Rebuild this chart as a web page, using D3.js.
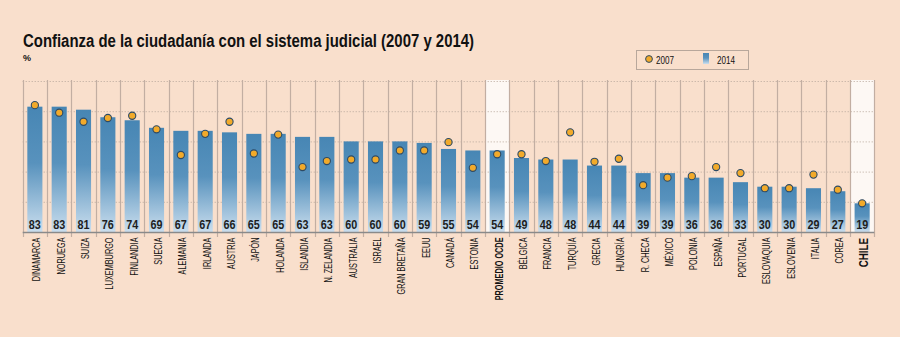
<!DOCTYPE html>
<html><head><meta charset="utf-8">
<script src="https://cdn.jsdelivr.net/npm/d3@7"></script>
<style>
html,body{margin:0;padding:0;background:#f9dfcc;}
svg{display:block;}
</style></head>
<body>
<svg id="chart" width="900" height="337"></svg>
<script>
const categories = ["DINAMARCA","NORUEGA","SUIZA","LUXEMBURGO","FINLANDIA","SUECIA","ALEMANIA","IRLANDA","AUSTRIA","JAPÓN","HOLANDA","ISLANDIA","N. ZELANDIA","AUSTRALIA","ISRAEL","GRAN BRETAÑA","EEUU","CANADÁ","ESTONIA","PROMEDIO OCDE","BÉLGICA","FRANCIA","TURQUÍA","GRECIA","HUNGRÍA","R. CHECA","MÉXICO","POLONIA","ESPAÑA","PORTUGAL","ESLOVAQUIA","ESLOVENIA","ITALIA","COREA","CHILE"];
const values2014 = [83,83,81,76,74,69,67,67,66,65,65,63,63,60,60,60,59,55,54,54,49,48,48,44,44,39,39,36,36,33,30,30,29,27,19];
const values2007 = [84,79,73,75.5,77,68,51,65,73,52,64.5,43,47,48,48,54,54,59.5,42.5,51.5,51.5,47,66,46.5,48.5,31,36,37,43,39,29,29,38,28,19];
const yTicks = [20,40,60,80,100];
const highlighted = ["PROMEDIO OCDE","CHILE"];

const font = "'Liberation Sans',Arial,sans-serif";
const svg = d3.select("#chart");
svg.append("rect").attr("width",900).attr("height",337).attr("fill","#f9dfcc");

const x = d3.scaleBand().domain(categories).range([22.7,874.3]).paddingInner(0.38).paddingOuter(0.19);
const y = d3.scaleLinear().domain([0,100]).range([232,81]);

const defs = svg.append("defs");
const grad = defs.append("linearGradient").attr("id","barGrad").attr("x1",0).attr("y1",0).attr("x2",0).attr("y2",1);
grad.append("stop").attr("offset","0%").attr("stop-color","#4786b4");
grad.append("stop").attr("offset","45%").attr("stop-color","#5892bd");
grad.append("stop").attr("offset","100%").attr("stop-color","#cadeee");

const step = x.step();
const bandStart = d => x(d) - x.paddingInner()*step/2;

// highlighted columns
svg.append("g").selectAll("rect").data(highlighted).join("rect")
  .attr("x", d => bandStart(d)).attr("y", y(100)-1)
  .attr("width", step).attr("height", y(0)-y(100)+1)
  .attr("fill","#fdf8f4");

// horizontal dotted gridlines
svg.append("g").selectAll("line").data(yTicks).join("line")
  .attr("x1",22.7).attr("x2",874.3).attr("y1",d=>y(d)+0.5).attr("y2",d=>y(d)+0.5)
  .attr("stroke","#b9a89c").attr("stroke-width",1).attr("stroke-dasharray","1,2");

// vertical separators
const seps = categories.map(c => bandStart(c)).concat([bandStart(categories[categories.length-1])+step]);
svg.append("g").selectAll("line").data(seps).join("line")
  .attr("x1",d=>Math.round(d)+0.5).attr("x2",d=>Math.round(d)+0.5)
  .attr("y1",y(100)-1).attr("y2",y(0)+5)
  .attr("stroke","#c2aea2").attr("stroke-width",1.2);

// bars
svg.append("g").selectAll("rect").data(categories).join("rect")
  .attr("x", d => x(d)).attr("width", x.bandwidth())
  .attr("y", (d,i) => y(values2014[i])).attr("height",(d,i)=> y(0)-y(values2014[i]))
  .attr("fill","url(#barGrad)");

// baseline
svg.append("line").attr("x1",22.7).attr("x2",874.3).attr("y1",y(0)+0.5).attr("y2",y(0)+0.5)
  .attr("stroke","#8a8a8a").attr("stroke-width",1.6);

// value labels
svg.append("g").selectAll("text").data(categories).join("text")
  .attr("x", d => x(d)+x.bandwidth()/2 - 6).attr("y", 228.5)
  .attr("font-family",font).attr("font-weight","bold")
  .attr("font-size","12.5px").attr("fill","#1e1e1e")
  .attr("textLength",12).attr("lengthAdjust","spacingAndGlyphs")
  .text((d,i)=>values2014[i]);

// dots 2007
svg.append("g").selectAll("circle").data(categories).join("circle")
  .attr("cx", d => x(d)+x.bandwidth()/2).attr("cy",(d,i)=>y(values2007[i]))
  .attr("r",3.6).attr("fill","#f2aa2a").attr("stroke","#2c4a66").attr("stroke-width",1.1);

// category labels
svg.append("g").selectAll("text").data(categories).join("text")
  .attr("transform", d => d==="CHILE"
      ? `translate(${x(d)+x.bandwidth()/2+6},238) rotate(-90) scale(0.78,1)`
      : `translate(${x(d)+x.bandwidth()/2+5.5},237.5) rotate(-90) scale(0.73,1)`)
  .attr("text-anchor","end").attr("font-family",font)
  .attr("font-weight", d => highlighted.includes(d) ? "bold" : "normal")
  .attr("font-size", d => d==="CHILE" ? "12.5px" : "10px")
  .attr("fill","#111")
  .text(d=>d);

// title
svg.append("text").attr("x",23).attr("y",47).attr("font-family",font).attr("font-weight","bold")
  .attr("font-size","17.5px").attr("fill","#111")
  .attr("textLength",451).attr("lengthAdjust","spacingAndGlyphs")
  .text("Confianza de la ciudadanía con el sistema judicial (2007 y 2014)");
svg.append("text").attr("x",23).attr("y",61).attr("font-family",font).attr("font-weight","bold")
  .attr("font-size","9px").attr("fill","#111").text("%");

// legend
const lg = svg.append("g");
lg.append("rect").attr("x",636.5).attr("y",50.5).attr("width",112).attr("height",19)
  .attr("fill","#f9dfcc").attr("stroke","#b8a79b").attr("stroke-width",1);
lg.append("circle").attr("cx",649).attr("cy",59).attr("r",3.4).attr("fill","#f2aa2a").attr("stroke","#2c4a66").attr("stroke-width",1);
lg.append("text").attr("x",656).attr("y",63.5).attr("font-family",font).attr("font-size","10.5px").attr("fill","#111")
  .attr("textLength",18).attr("lengthAdjust","spacingAndGlyphs").text("2007");
lg.append("rect").attr("x",703).attr("y",53).attr("width",6).attr("height",11).attr("fill","url(#barGrad)");
lg.append("text").attr("x",717).attr("y",63.5).attr("font-family",font).attr("font-size","10.5px").attr("fill","#111")
  .attr("textLength",18).attr("lengthAdjust","spacingAndGlyphs").text("2014");
</script>
</body></html>
